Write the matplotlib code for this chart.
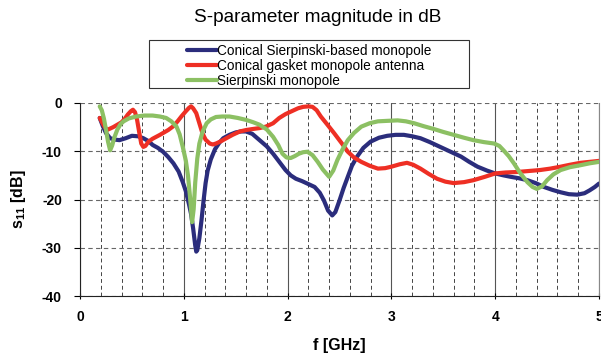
#!/usr/bin/env python3

import matplotlib
matplotlib.use("Agg")
import matplotlib.pyplot as plt
from matplotlib.patches import Rectangle
from matplotlib.ticker import MultipleLocator

plt.rcParams["font.family"] = ["Liberation Sans", "DejaVu Sans"]
plt.rcParams["mathtext.fontset"] = "custom"
plt.rcParams["mathtext.rm"] = "Liberation Sans:bold"
plt.rcParams["mathtext.bf"] = "Liberation Sans:bold"
plt.rcParams["axes.unicode_minus"] = False

# data (f in GHz, s11 in dB)
labels = ["Conical Sierpinski-based monopole",
          "Conical gasket monopole antenna",
          "Sierpinski monopole"]

f_blue = [0.19, 0.22, 0.25, 0.29, 0.34, 0.38, 0.44, 0.50, 0.56, 0.61, 0.66,
          0.70, 0.75, 0.80, 0.85, 0.90, 0.95, 0.99, 1.02, 1.05, 1.07, 1.09,
          1.11, 1.12, 1.13, 1.15, 1.17, 1.19, 1.21, 1.23, 1.26, 1.30, 1.34,
          1.38, 1.44, 1.50, 1.55, 1.60, 1.66, 1.73, 1.80, 1.86, 1.92, 1.98,
          2.03, 2.08, 2.14, 2.19, 2.26, 2.31, 2.35, 2.39, 2.43, 2.46, 2.50,
          2.54, 2.58, 2.62, 2.67, 2.73, 2.80, 2.88, 2.96, 3.04, 3.12, 3.20,
          3.28, 3.37, 3.47, 3.57, 3.67, 3.75, 3.83, 3.92, 4.00, 4.08, 4.15,
          4.23, 4.31, 4.39, 4.47, 4.55, 4.63, 4.71, 4.79, 4.86, 4.91, 4.96,
          5.00]
s_blue = [-3.1, -4.8, -6.2, -7.3, -7.6, -7.7, -7.3, -6.8, -6.9, -7.3, -7.9,
          -8.7, -9.3, -10.1, -11.2, -12.5, -14.2, -16.4, -18.3, -21.0, -23.0, -26.0,
          -29.5, -30.8, -30.5, -28.0, -24.4, -20.3, -16.6, -14.0, -11.7, -9.6, -8.3,
          -7.3, -6.6, -6.1, -5.9, -5.9, -6.4, -7.7, -9.0, -10.5, -12.2, -13.9,
          -15.0, -15.7, -16.2, -16.7, -17.4, -18.6, -20.2, -22.3, -23.3, -22.6, -20.2,
          -17.6, -15.3, -13.0, -11.1, -9.3, -8.0, -7.2, -6.8, -6.6, -6.6, -6.9,
          -7.3, -8.1, -9.1, -10.1, -11.1, -12.2, -13.2, -14.0, -14.6, -15.0, -15.3,
          -15.6, -16.0, -16.6, -17.4, -18.0, -18.5, -18.9, -19.0, -18.7, -18.1, -17.4,
          -16.7]

f_red = [0.19, 0.23, 0.26, 0.29, 0.32, 0.36, 0.40, 0.43, 0.46, 0.49, 0.51,
         0.53, 0.55, 0.57, 0.59, 0.61, 0.63, 0.66, 0.70, 0.77, 0.85, 0.90,
         0.94, 0.98, 1.02, 1.05, 1.07, 1.09, 1.12, 1.15, 1.18, 1.21, 1.25,
         1.28, 1.31, 1.36, 1.41, 1.47, 1.54, 1.60, 1.66, 1.73, 1.79, 1.86,
         1.92, 1.98, 2.05, 2.10, 2.15, 2.20, 2.24, 2.28, 2.32, 2.38, 2.45,
         2.52, 2.58, 2.64, 2.71, 2.79, 2.87, 2.94, 3.00, 3.08, 3.15, 3.21,
         3.28, 3.36, 3.44, 3.52, 3.60, 3.70, 3.79, 3.90, 4.00, 4.10, 4.21,
         4.32, 4.43, 4.53, 4.63, 4.72, 4.82, 4.91, 5.00]
s_red = [-3.1, -4.7, -5.6, -5.3, -5.0, -4.5, -4.0, -3.3, -2.4, -1.7, -1.4,
         -1.9, -3.5, -6.0, -8.4, -9.1, -8.9, -8.0, -7.4, -6.6, -5.6, -4.8,
         -3.8, -2.7, -1.7, -1.0, -0.7, -1.1, -2.1, -4.2, -6.3, -7.6, -8.4,
         -8.6, -8.4, -7.9, -7.3, -6.6, -5.9, -5.6, -5.4, -5.2, -4.9, -4.2,
         -3.1, -2.3, -1.6, -1.1, -0.8, -0.7, -0.8, -1.5, -2.8, -4.4, -6.3,
         -8.3, -10.1, -11.3, -12.2, -13.0, -13.6, -13.5, -13.2, -12.7, -12.4, -12.8,
         -13.6, -14.7, -15.7, -16.3, -16.6, -16.4, -16.0, -15.3, -14.6, -14.4, -14.3,
         -14.1, -13.9, -13.6, -13.2, -12.8, -12.4, -12.2, -12.0]

f_green = [0.19, 0.21, 0.23, 0.25, 0.27, 0.29, 0.31, 0.33, 0.36, 0.39, 0.42,
           0.47, 0.54, 0.62, 0.70, 0.77, 0.83, 0.88, 0.93, 0.96, 0.99, 1.02,
           1.04, 1.06, 1.08, 1.095, 1.11, 1.13, 1.15, 1.18, 1.22, 1.26, 1.31,
           1.37, 1.44, 1.52, 1.60, 1.67, 1.73, 1.80, 1.86, 1.91, 1.95, 1.99,
           2.03, 2.07, 2.11, 2.15, 2.19, 2.24, 2.29, 2.34, 2.40, 2.44, 2.48,
           2.53, 2.58, 2.64, 2.71, 2.79, 2.87, 2.96, 3.06, 3.14, 3.22, 3.31,
           3.41, 3.50, 3.60, 3.70, 3.79, 3.89, 3.99, 4.04, 4.08, 4.13, 4.18,
           4.24, 4.31, 4.36, 4.40, 4.45, 4.50, 4.56, 4.63, 4.72, 4.82, 4.91,
           5.00]
s_green = [-0.7, -1.5, -3.2, -5.5, -8.0, -9.8, -8.8, -7.2, -5.5, -4.4, -3.8,
           -3.2, -2.8, -2.6, -2.6, -2.8, -3.1, -3.8, -4.9, -6.5, -9.1, -12.0,
           -15.0, -19.5, -24.7, -22.0, -16.5, -11.5, -8.4, -6.0, -4.2, -3.4, -2.9,
           -2.8, -2.8, -3.1, -3.5, -4.0, -4.5, -5.5, -7.0, -8.7, -10.5, -11.3,
           -11.4, -11.0, -10.5, -10.2, -10.1, -10.8, -12.2, -13.8, -15.3, -14.0, -11.8,
           -9.6, -7.7, -6.2, -4.9, -4.2, -3.8, -3.7, -3.6, -3.8, -4.2, -4.8,
           -5.4, -6.0, -6.6, -7.2, -7.7, -8.1, -8.4, -8.9, -9.8, -11.0, -12.5,
           -14.5, -16.4, -17.4, -17.8, -17.3, -16.0, -14.8, -13.9, -13.3, -12.9, -12.5,
           -12.2]

colors = ["#2b2d7c", "#ee2f24", "#8cc063"]

fig = plt.figure(figsize=(6.01, 3.58), dpi=100)
ax = fig.add_axes([80 / 601, 1 - 296 / 358, 519 / 601, 193 / 358])

lines = []
for fx, sy, c, lab in zip([f_blue, f_red, f_green], [s_blue, s_red, s_green], colors, labels):
    ln, = ax.plot(fx, sy, color=c, lw=3.0, label=lab,
                  solid_joinstyle="round", solid_capstyle="round", zorder=3)
    lines.append(ln)

ax.set_xlim(0, 5)
ax.set_ylim(-40, 0)
ax.xaxis.set_major_locator(MultipleLocator(1))
ax.xaxis.set_minor_locator(MultipleLocator(0.2))
ax.yaxis.set_major_locator(MultipleLocator(10))

# grid
ax.grid(True, which="major", axis="x", color="#555555", lw=0.8, ls="-")
ax.grid(True, which="minor", axis="x", color="#444444", lw=0.7, ls=(0, (4, 3)))
ax.grid(True, which="major", axis="y", color="#666666", lw=0.8, ls=(0, (4, 3)))

ax.spines["top"].set_visible(False)
ax.spines["right"].set_color("#888888")
ax.spines["left"].set_color("#222222")
ax.spines["bottom"].set_color("#222222")

ax.tick_params(axis="both", which="major", labelsize=10, length=4, width=0.8)
ax.tick_params(axis="y", direction="out", pad=9)
ax.tick_params(axis="x", direction="inout", pad=8)
ax.tick_params(which="minor", length=0)
for t in ax.get_xticklabels() + ax.get_yticklabels():
    t.set_fontweight("bold")

ax.set_xlabel("f [GHz]", fontsize=11.5, fontweight="bold", labelpad=10)
ax.set_ylabel("s$_{11}$ [dB]", fontsize=11.5, fontweight="bold", labelpad=10)

fig.text(317.5 / 601, 1 - 18 / 358, "S-parameter magnitude in dB",
         fontsize=13.7, ha="center", va="center")

# legend with a wide box
fig.patches.append(Rectangle((149 / 601, 1 - 88 / 358), 320 / 601, 48 / 358,
                             transform=fig.transFigure, fill=False,
                             edgecolor="#333333", lw=0.8))
fig.legend(handles=lines, loc="upper left", bbox_to_anchor=(184 / 601, 1 - 41 / 358),
           frameon=False, fontsize=9.8, handlelength=2.2, handletextpad=0.05,
           labelspacing=0.08, borderpad=0.2, borderaxespad=0)

fig.savefig("out.png", dpi=100)
